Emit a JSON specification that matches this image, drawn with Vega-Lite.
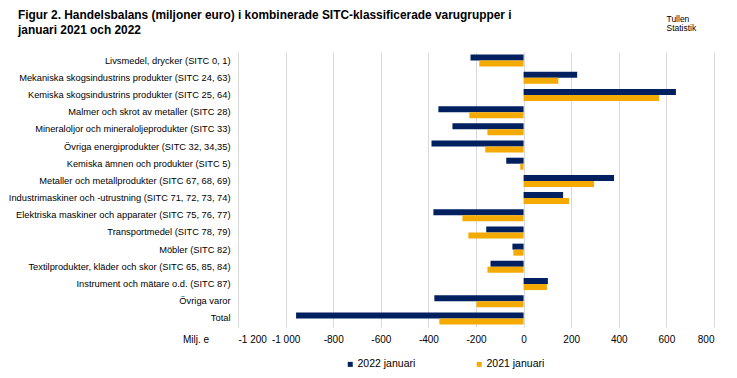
{
  "$schema": "https://vega.github.io/schema/vega-lite/v6.json",
  "width": 476,
  "height": 275,
  "autosize": {"type": "none"},
  "padding": {"left": 238, "top": 52, "right": 23, "bottom": 51},
  "background": "white",
  "title": {
    "text": ["Figur  2. Handelsbalans (miljoner euro) i kombinerade SITC-klassificerade varugrupper i", "januari 2021 och 2022"],
    "anchor": "start",
    "frame": "group",
    "dx": -220,
    "dy": 36,
    "offset": 14,
    "font": "Liberation Sans",
    "fontSize": 11.9,
    "fontWeight": "bold",
    "lineHeight": 14.3,
    "color": "#000000"
  },
  "data": {
    "values": [
      {"kategori": "Livsmedel, drycker (SITC 0, 1)", "serie": "2022 januari", "varde": -223},
      {"kategori": "Livsmedel, drycker (SITC 0, 1)", "serie": "2021 januari", "varde": -186},
      {"kategori": "Mekaniska skogsindustrins produkter (SITC 24, 63)", "serie": "2022 januari", "varde": 225},
      {"kategori": "Mekaniska skogsindustrins produkter (SITC 24, 63)", "serie": "2021 januari", "varde": 146},
      {"kategori": "Kemiska skogsindustrins produkter (SITC 25, 64)", "serie": "2022 januari", "varde": 640},
      {"kategori": "Kemiska skogsindustrins produkter (SITC 25, 64)", "serie": "2021 januari", "varde": 569},
      {"kategori": "Malmer och skrot av metaller (SITC 28)", "serie": "2022 januari", "varde": -358},
      {"kategori": "Malmer och skrot av metaller (SITC 28)", "serie": "2021 januari", "varde": -228},
      {"kategori": "Mineraloljor och mineraloljeprodukter (SITC 33)", "serie": "2022 januari", "varde": -299},
      {"kategori": "Mineraloljor och mineraloljeprodukter (SITC 33)", "serie": "2021 januari", "varde": -152},
      {"kategori": "Övriga energiprodukter (SITC 32, 34,35)", "serie": "2022 januari", "varde": -387},
      {"kategori": "Övriga energiprodukter (SITC 32, 34,35)", "serie": "2021 januari", "varde": -161},
      {"kategori": "Kemiska ämnen och produkter (SITC 5)", "serie": "2022 januari", "varde": -73},
      {"kategori": "Kemiska ämnen och produkter (SITC 5)", "serie": "2021 januari", "varde": -14},
      {"kategori": "Metaller och metallprodukter (SITC 67, 68, 69)", "serie": "2022 januari", "varde": 380},
      {"kategori": "Metaller och metallprodukter (SITC 67, 68, 69)", "serie": "2021 januari", "varde": 296},
      {"kategori": "Industrimaskiner och -utrustning (SITC 71, 72, 73, 74)", "serie": "2022 januari", "varde": 166},
      {"kategori": "Industrimaskiner och -utrustning (SITC 71, 72, 73, 74)", "serie": "2021 januari", "varde": 191},
      {"kategori": "Elektriska maskiner och apparater (SITC 75, 76, 77)", "serie": "2022 januari", "varde": -379},
      {"kategori": "Elektriska maskiner och apparater (SITC 75, 76, 77)", "serie": "2021 januari", "varde": -257},
      {"kategori": "Transportmedel (SITC 78, 79)", "serie": "2022 januari", "varde": -157},
      {"kategori": "Transportmedel (SITC 78, 79)", "serie": "2021 januari", "varde": -232},
      {"kategori": "Möbler (SITC 82)", "serie": "2022 januari", "varde": -47},
      {"kategori": "Möbler (SITC 82)", "serie": "2021 januari", "varde": -43},
      {"kategori": "Textilprodukter, kläder och skor (SITC 65, 85, 84)", "serie": "2022 januari", "varde": -139},
      {"kategori": "Textilprodukter, kläder och skor (SITC 65, 85, 84)", "serie": "2021 januari", "varde": -152},
      {"kategori": "Instrument och mätare o.d. (SITC 87)", "serie": "2022 januari", "varde": 102},
      {"kategori": "Instrument och mätare o.d. (SITC 87)", "serie": "2021 januari", "varde": 98},
      {"kategori": "Övriga varor", "serie": "2022 januari", "varde": -375},
      {"kategori": "Övriga varor", "serie": "2021 januari", "varde": -198},
      {"kategori": "Total", "serie": "2022 januari", "varde": -956},
      {"kategori": "Total", "serie": "2021 januari", "varde": -354}
    ]
  },
  "mark": {"type": "bar"},
  "encoding": {
    "y": {
      "field": "kategori",
      "type": "nominal",
      "sort": null,
      "scale": {"paddingInner": 0.3, "paddingOuter": 0.15},
      "axis": {
        "title": ["Tullen", "Statistik"],
        "titleAngle": 0,
        "titleX": 428,
        "titleY": -37.5,
        "titleAlign": "left",
        "titleBaseline": "top",
        "titleFont": "Liberation Sans",
        "titleFontSize": 8.5,
        "titleFontWeight": "normal",
        "titleLineHeight": 9,
        "titleColor": "#000000",
        "domain": false,
        "ticks": false,
        "labelPadding": 8,
        "labelLimit": 400,
        "labelFont": "Liberation Sans",
        "labelFontSize": 9.3,
        "labelColor": "#000000"
      }
    },
    "yOffset": {
      "field": "serie",
      "type": "nominal",
      "sort": ["2022 januari", "2021 januari"]
    },
    "x": {
      "field": "varde",
      "type": "quantitative",
      "scale": {"domain": [-1200, 800], "nice": false, "zero": true},
      "axis": {
        "title": "Milj. e",
        "titleX": -42.5,
        "titleY": 12,
        "titleAlign": "center",
        "titleBaseline": "middle",
        "titleFont": "Liberation Sans",
        "titleFontSize": 10,
        "titleFontWeight": "normal",
        "titleColor": "#000000",
        "values": [-1200, -1000, -800, -600, -400, -200, 0, 200, 400, 600, 800],
        "labelExpr": "replace(replace(format(datum.value, ','), ',', ' '), '\u2212', '-')",
        "domain": false,
        "ticks": false,
        "grid": true,
        "gridColor": "#d9d9d9",
        "gridWidth": 1,
        "labelPadding": 7,
        "labelFont": "Liberation Sans",
        "labelFontSize": 10,
        "labelColor": "#000000"
      }
    },
    "color": {
      "field": "serie",
      "type": "nominal",
      "scale": {"domain": ["2022 januari", "2021 januari"], "range": ["#002060", "#f4aa00"]},
      "legend": {
        "title": null,
        "orient": "none",
        "direction": "horizontal",
        "legendX": 107,
        "legendY": 307,
        "symbolType": "square",
        "symbolSize": 25,
        "symbolStrokeWidth": 0,
        "labelOffset": 2,
        "columnPadding": 58,
        "labelFont": "Liberation Sans",
        "labelFontSize": 10.5,
        "labelColor": "#000000",
        "padding": 0
      }
    }
  },
  "config": {
    "view": {"stroke": null}
  }
}
